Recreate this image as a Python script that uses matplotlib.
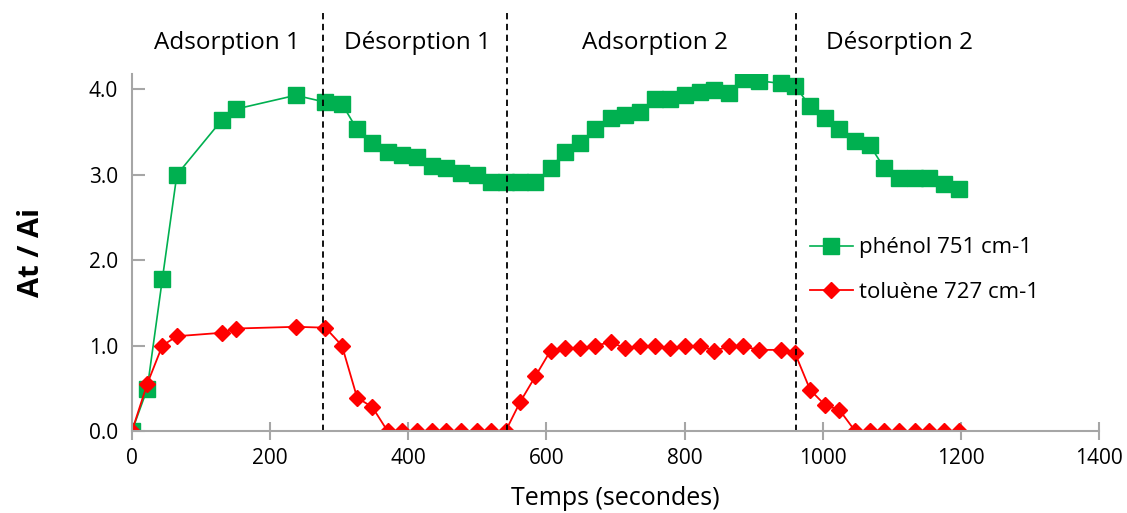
import numpy as np
import matplotlib
matplotlib.use("Agg")
import matplotlib.pyplot as plt

plt.rcParams['font.family'] = ['Open Sans', 'DejaVu Sans']

# temps (s)
temps = [0, 22, 44, 65, 130, 151, 237, 280, 304, 326, 348, 370, 391, 412, 435,
         455, 477, 499, 520, 541, 562, 584, 606, 627, 648, 671, 693, 714, 736,
         757, 779, 800, 822, 843, 865, 885, 908, 939, 960, 982, 1004, 1024,
         1047, 1068, 1089, 1111, 1133, 1154, 1176, 1197]

phenol = [0.0, 0.49, 1.78, 3.00, 3.64, 3.77, 3.93, 3.85, 3.83, 3.53, 3.37, 3.27,
          3.23, 3.21, 3.10, 3.08, 3.02, 3.00, 2.91, 2.91, 2.91, 2.91, 3.08, 3.27,
          3.37, 3.53, 3.66, 3.70, 3.74, 3.89, 3.89, 3.93, 3.97, 3.99, 3.96, 4.12,
          4.10, 4.07, 4.04, 3.80, 3.67, 3.53, 3.40, 3.35, 3.08, 2.96, 2.96, 2.96,
          2.89, 2.83]

toluene = [0.0, 0.55, 1.00, 1.11, 1.15, 1.20, 1.22, 1.21, 1.00, 0.39, 0.28,
           0, 0, 0, 0, 0, 0, 0, 0, 0,
           0.34, 0.64, 0.94, 0.97, 0.97, 1.00, 1.04, 0.97, 0.99, 1.00, 0.97,
           0.99, 1.00, 0.94, 0.99, 0.99, 0.95, 0.95, 0.91, 0.48, 0.30, 0.25,
           0, 0, 0, 0, 0, 0, 0, 0]

# limites des phases et leurs noms
limites = [277, 543, 962]
phases = ['Adsorption 1', 'Désorption 1', 'Adsorption 2', 'Désorption 2']
pos_phases = [138, 413, 757, 1111]

fig = plt.figure(figsize=(11.27, 5.13), dpi=100)
ax = fig.add_axes([0.1171, 0.1598, 0.858, 0.696])

ax.plot(temps, phenol, color='#00B050', lw=1.2, marker='s', ms=11,
        label='phénol 751 cm-1')
ax.plot(temps, toluene, color='#FF0000', lw=1.3, marker='D', ms=8.5,
        label='toluène 727 cm-1')

ax.set_xlim(0, 1400)
ax.set_ylim(0, 4.18)
ax.set_xticks(np.arange(0, 1401, 200))
ax.set_yticks(np.arange(0, 4.1, 1.0))
ax.set_yticklabels(['0.0', '1.0', '2.0', '3.0', '4.0'])

for s in ['top', 'right']:
    ax.spines[s].set_visible(False)
for s in ['left', 'bottom']:
    ax.spines[s].set_color('#a6a6a6')
    ax.spines[s].set_linewidth(1.5)
ax.tick_params(axis='x', direction='inout', length=13, width=1.5,
               color='#a6a6a6', labelsize=15, pad=6)
ax.tick_params(axis='y', direction='in', length=9, width=1.5,
               color='#a6a6a6', labelsize=15, pad=10)

# lignes verticales des phases
ax.vlines(limites, 0, 1.17, transform=ax.get_xaxis_transform(),
          colors='black', linestyles=(0, (3.5, 2.5)), lw=1.3, clip_on=False)
for nom, x in zip(phases, pos_phases):
    ax.text(x, 1.087, nom, transform=ax.get_xaxis_transform(),
            ha='center', va='center', fontsize=17.5)

ax.set_xlabel('Temps (secondes)', fontsize=18, labelpad=12)
ax.set_ylabel('At / Ai', fontsize=21, fontweight='bold', labelpad=31)

ax.legend(loc='center left', bbox_to_anchor=(0.68, 0.451), frameon=False,
          fontsize=16, handlelength=1.95, labelspacing=1.05, handletextpad=0.28)

fig.savefig('out.png', dpi=100)
